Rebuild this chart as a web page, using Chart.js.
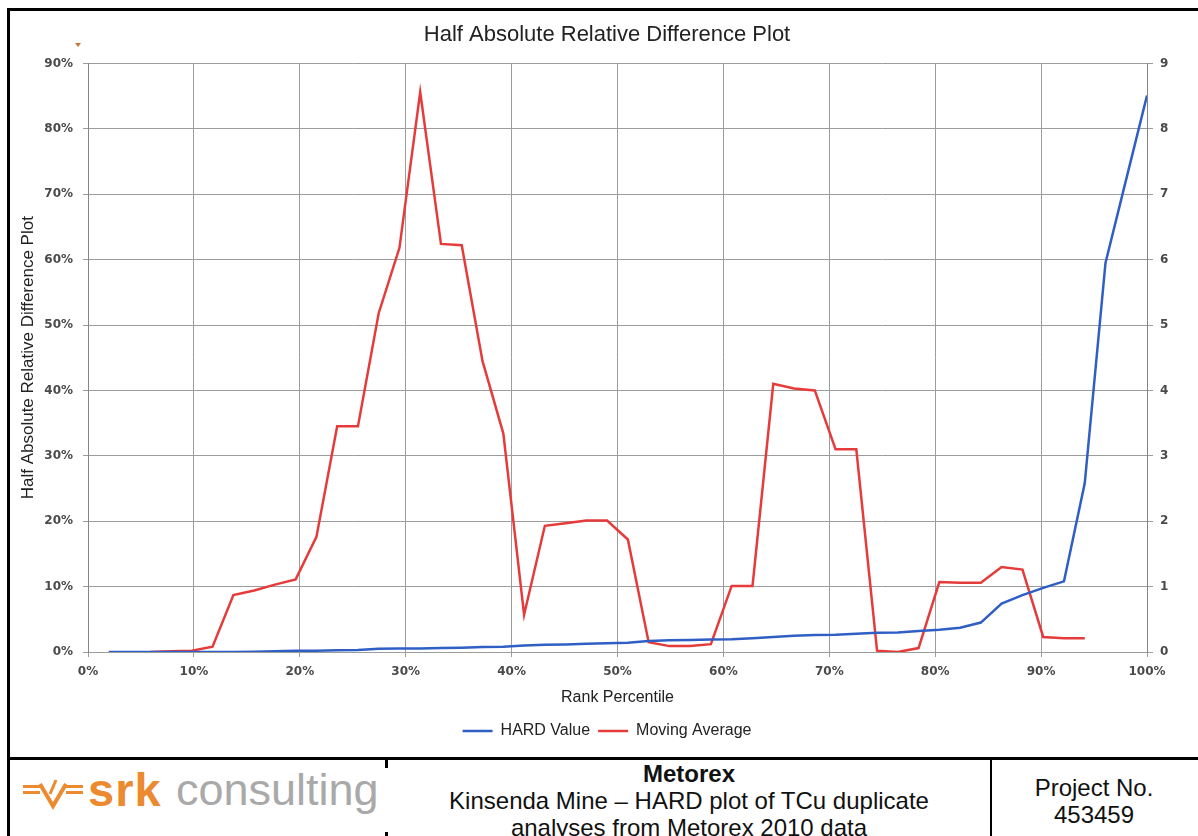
<!DOCTYPE html>
<html>
<head>
<meta charset="utf-8">
<script src="https://cdn.jsdelivr.net/npm/chart.js@4.4.0/dist/chart.umd.min.js"></script>
<style>
  body { margin: 0; width: 1198px; height: 836px; overflow: hidden; background: #fff; position: relative;
         font-family: 'Liberation Sans', Arial, sans-serif; }
  #chartBox { position: absolute; left: 0; top: 0; width: 1198px; height: 756px; }
  .rule { position: absolute; background: #000; }
  .foot { position: absolute; text-align: center; color: #111; font-size: 24px; line-height: 27px; }
  .logo { position: absolute; white-space: nowrap; line-height: 45px; }
</style>
</head>
<body>
<div id="chartBox"><canvas id="myChart"></canvas></div>

<!-- frame -->
<div class="rule" style="left:7px;top:8px;width:1191px;height:3px"></div>
<div class="rule" style="left:7px;top:8px;width:3px;height:828px"></div>
<div class="rule" style="left:7px;top:757px;width:1191px;height:3px"></div>
<div class="rule" style="left:385px;top:760px;width:3px;height:8px"></div>
<div class="rule" style="left:385px;top:832px;width:3px;height:4px"></div>
<div class="rule" style="left:990px;top:760px;width:2px;height:76px"></div>
<div style="position:absolute;left:75px;top:43px;width:0;height:0;border-left:3px solid transparent;border-right:3px solid transparent;border-top:4px solid #c8743a"></div>

<!-- footer -->
<svg style="position:absolute;left:20px;top:778px" width="66" height="32">
  <g fill="#ec8a2f">
    <rect x="3" y="7" width="17" height="3"/>
    <rect x="3" y="13" width="17" height="3"/>
    <rect x="46" y="7" width="17" height="3"/>
    <rect x="46" y="13" width="17" height="3"/>
  </g>
  <polyline points="20,6 33,28 46,6" fill="none" stroke="#ec8a2f" stroke-width="4"/>
  <line x1="30" y1="16" x2="36" y2="2" stroke="#ec8a2f" stroke-width="3"/>
</svg>
<div class="logo" style="left:88px;top:767px;font-size:47px;font-weight:bold;color:#ec8a2f;letter-spacing:1px">srk</div>
<div class="logo" style="left:176px;top:767px;font-size:45px;color:#a9a9a9">consulting</div>

<div class="foot" style="left:388px;top:760px;width:602px">
  <b>Metorex</b><br>Kinsenda Mine – HARD plot of TCu duplicate<br>analyses from Metorex 2010 data
</div>
<div class="foot" style="left:992px;top:774px;width:204px">Project No.<br>453459</div>

<script>
// rank percentile of each sample group
const rankPercentile = [
  1.96, 3.92, 5.88, 7.84, 9.80, 11.76, 13.73, 15.69, 17.65, 19.61,
  21.57, 23.53, 25.49, 27.45, 29.41, 31.37, 33.33, 35.29, 37.25, 39.22,
  41.18, 43.14, 45.10, 47.06, 49.02, 50.98, 52.94, 54.90, 56.86, 58.82,
  60.78, 62.75, 64.71, 66.67, 68.63, 70.59, 72.55, 74.51, 76.47, 78.43,
  80.39, 82.35, 84.31, 86.27, 88.24, 90.20, 92.16, 94.12, 96.08, 98.04, 100
];

// HARD value (%), left axis
const hardValue = [
  0, 0, 0, 0, 0, 0, 0, 0.05, 0.1, 0.2,
  0.2, 0.25, 0.3, 0.5, 0.55, 0.55, 0.6, 0.65, 0.75, 0.8,
  1.0, 1.1, 1.15, 1.25, 1.35, 1.4, 1.7, 1.8, 1.85, 1.9,
  1.95, 2.1, 2.3, 2.5, 2.6, 2.65, 2.8, 2.95, 3.0, 3.2,
  3.4, 3.7, 4.5, 7.4, 8.7, 9.8, 10.8, 25.8, 59.5, 72.3, 85.1
];

// moving average, right axis (starts at the 3rd rank, ends at the 48th)
const movingAverage = [
  0, 0.01, 0.02, 0.08, 0.87, 0.94, 1.03, 1.11, 1.76, 3.45,
  3.45, 5.18, 6.18, 8.56, 6.24, 6.22, 4.45, 3.34, 0.57, 1.93,
  1.97, 2.01, 2.01, 1.72, 0.15, 0.09, 0.09, 0.12, 1.01, 1.01,
  4.10, 4.03, 4.00, 3.10, 3.10, 0.02, 0.0, 0.06, 1.07, 1.06,
  1.06, 1.30, 1.26, 0.23, 0.21, 0.21
];
const maStart = 2;

const xTicks = [0, 10, 20, 30, 40, 50, 60, 70, 80, 90, 100];
const leftTicks = [0, 10, 20, 30, 40, 50, 60, 70, 80, 90];
const rightTicks = [0, 1, 2, 3, 4, 5, 6, 7, 8, 9];

const hardPoints = rankPercentile.map((x, i) => ({ x, y: hardValue[i] }));
const maPoints = movingAverage.map((y, i) => ({ x: rankPercentile[i + maStart], y }));

const tickFont = { family: "'DejaVu Sans', Verdana, sans-serif", size: 12, weight: 'bold' };
const tickColor = '#4a4a4a';
const gridColor = '#9c9c9c';

Chart.defaults.font.family = "'Liberation Sans', Arial, sans-serif";
Chart.defaults.color = '#222';

const data = {
  datasets: [
    {
      label: 'HARD Value',
      data: hardPoints,
      yAxisID: 'y',
      borderColor: '#2f5fc4',
      backgroundColor: '#2f5fc4',
      borderWidth: 2.5,
      pointRadius: 0,
      tension: 0,
    },
    {
      label: 'Moving Average',
      data: maPoints,
      yAxisID: 'y1',
      borderColor: '#e63b3b',
      backgroundColor: '#e63b3b',
      borderWidth: 2.5,
      pointRadius: 0,
      tension: 0,
    },
  ],
};

const config = {
  type: 'line',
  data,
  options: {
    responsive: true,
    maintainAspectRatio: false,
    animation: false,
    layout: { padding: { left: 16, right: 0, top: 8, bottom: 7 } },
    plugins: {
      title: {
        display: true,
        text: 'Half Absolute Relative Difference Plot',
        font: { size: 22, weight: 'normal' },
        color: '#222',
        padding: { top: 14, bottom: 15 },
      },
      legend: {
        position: 'bottom',
        labels: {
          usePointStyle: true,
          pointStyle: 'line',
          pointStyleWidth: 30,
          font: { size: 16 },
          color: '#222',
          padding: 8,
        },
      },
      tooltip: { enabled: false },
    },
    scales: {
      x: {
        type: 'linear',
        min: 0,
        max: 100,
        afterBuildTicks: (s) => { s.ticks = xTicks.map((v) => ({ value: v })); },
        afterFit: (s) => { s.height = 63; },
        ticks: { font: tickFont, color: tickColor, padding: 8, maxRotation: 0, callback: (v) => v + '%' },
        grid: { color: gridColor, tickLength: 5 },
        border: { color: gridColor },
        title: { display: true, text: 'Rank Percentile', font: { size: 16 }, color: '#222', padding: { top: 10, bottom: 8 } },
      },
      y: {
        position: 'left',
        min: 0,
        max: 90,
        afterBuildTicks: (s) => { s.ticks = leftTicks.map((v) => ({ value: v })); },
        afterFit: (s) => { s.width = 72; },
        ticks: { font: tickFont, color: tickColor, padding: 10, callback: (v) => v + '%' },
        grid: { color: gridColor, tickLength: 5 },
        border: { color: '#858585' },
        title: { display: true, text: 'Half Absolute Relative Difference Plot', font: { size: 17 }, color: '#222', padding: { top: 2, bottom: 4 } },
      },
      y1: {
        position: 'right',
        min: 0,
        max: 9,
        afterBuildTicks: (s) => { s.ticks = rightTicks.map((v) => ({ value: v })); },
        afterFit: (s) => { s.width = 51; },
        ticks: { font: tickFont, color: tickColor, padding: 7 },
        grid: { drawOnChartArea: false, color: gridColor, tickLength: 6 },
        border: { color: '#858585' },
      },
    },
  },
};

const myChart = new Chart(document.getElementById('myChart'), config);
</script>
</body>
</html>
